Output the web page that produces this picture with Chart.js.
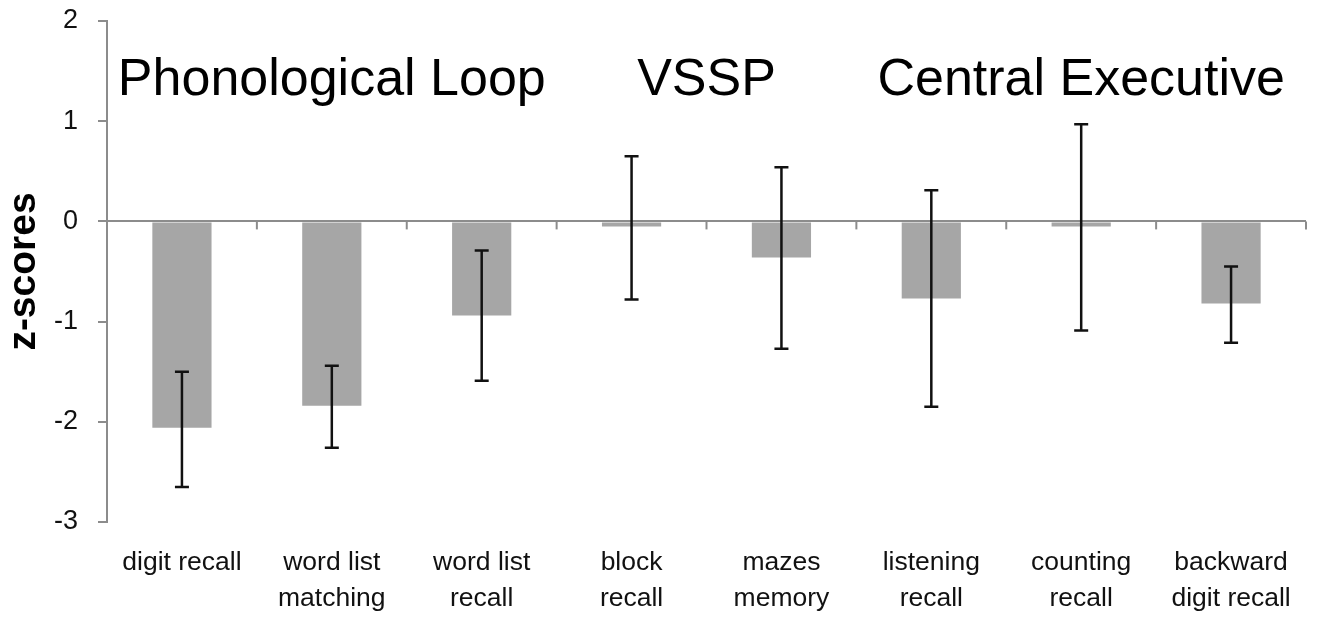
<!DOCTYPE html>
<html lang="en">
<head>
  <meta charset="UTF-8">
  <title>z-scores by working memory task</title>
  <script src="https://cdn.jsdelivr.net/npm/chart.js"></script>
  <style>
    html, body {
      margin: 0;
      padding: 0;
      background: #fff;
    }
    #wrap {
      width: 1318px;
      height: 618px;
    }
  </style>
</head>
<body>
  <div id="wrap"><canvas id="chart"></canvas></div>

  <script>
    // data
    const tasks = [
      ['digit recall'],
      ['word list', 'matching'],
      ['word list', 'recall'],
      ['block', 'recall'],
      ['mazes', 'memory'],
      ['listening', 'recall'],
      ['counting', 'recall'],
      ['backward', 'digit recall']
    ];
    const meanZ = [-2.06, -1.84, -0.94, -0.05, -0.36, -0.77, -0.05, -0.82];
    const errUpper = [-1.50, -1.44, -0.29, 0.65, 0.54, 0.31, 0.97, -0.45];
    const errLower = [-2.65, -2.26, -1.59, -0.78, -1.27, -1.85, -1.09, -1.21];
    const yTicks = [2, 1, 0, -1, -2, -3];

    // component headings, each over a run of tasks (first, last index)
    const groupNames = ['Phonological Loop', 'VSSP', 'Central Executive'];
    const groupFirst = [0, 3, 5];
    const groupLast = [2, 4, 7];

    const axisGrey = '#8c8c8c';
    const fontFamily = "'Liberation Sans', Arial, sans-serif";

    const errorBars = {
      id: 'errorBars',
      afterDatasetsDraw(chart) {
        const ctx = chart.ctx;
        const y = chart.scales.y;
        const bars = chart.getDatasetMeta(0).data;
        ctx.save();
        ctx.strokeStyle = '#111';
        ctx.lineWidth = 2.5;
        bars.forEach((bar, i) => {
          const top = y.getPixelForValue(errUpper[i]);
          const bot = y.getPixelForValue(errLower[i]);
          ctx.beginPath();
          ctx.moveTo(bar.x, top);
          ctx.lineTo(bar.x, bot);
          ctx.moveTo(bar.x - 7, top);
          ctx.lineTo(bar.x + 7, top);
          ctx.moveTo(bar.x - 7, bot);
          ctx.lineTo(bar.x + 7, bot);
          ctx.stroke();
        });
        ctx.restore();
      }
    };

    // little category ticks hanging off the zero line, plus the headings
    const decorations = {
      id: 'decorations',
      afterDraw(chart) {
        const ctx = chart.ctx;
        const x = chart.scales.x;
        const y = chart.scales.y;
        const zero = y.getPixelForValue(0);
        const step = (x.right - x.left) / tasks.length;
        ctx.save();
        ctx.strokeStyle = axisGrey;
        ctx.lineWidth = 2;
        for (let i = 1; i <= tasks.length; i++) {
          const px = x.left + i * step;
          ctx.beginPath();
          ctx.moveTo(px, zero);
          ctx.lineTo(px, zero + 8);
          ctx.stroke();
        }

        ctx.fillStyle = '#000';
        ctx.font = '52px ' + fontFamily;
        ctx.textAlign = 'center';
        ctx.textBaseline = 'alphabetic';
        const baseline = y.getPixelForValue(1.26);
        groupNames.forEach((name, g) => {
          const cx = (x.getPixelForValue(groupFirst[g]) + x.getPixelForValue(groupLast[g])) / 2;
          ctx.fillText(name, cx, baseline);
        });
        ctx.restore();
      }
    };

    new Chart(document.getElementById('chart'), {
      type: 'bar',
      data: {
        labels: tasks,
        datasets: [{
          label: 'z-score',
          data: meanZ,
          backgroundColor: '#a6a6a6',
          borderWidth: 0,
          categoryPercentage: 1,
          barPercentage: 0.395
        }]
      },
      options: {
        responsive: true,
        maintainAspectRatio: false,
        animation: false,
        layout: {
          padding: { top: 21, right: 12, left: 0, bottom: 0 }
        },
        plugins: {
          legend: { display: false },
          tooltip: { enabled: false }
        },
        scales: {
          x: {
            grid: { display: false, drawTicks: false },
            border: { display: false },
            ticks: {
              color: '#111',
              padding: 23,
              maxRotation: 0,
              autoSkip: false,
              font: { family: fontFamily, size: 26.5, lineHeight: 1.36 }
            },
            afterFit(scale) { scale.height = 96; }
          },
          y: {
            min: -3,
            max: 2,
            afterBuildTicks(scale) {
              scale.ticks = yTicks.map(v => ({ value: v }));
            },
            grid: {
              color: ctx => (ctx.tick && ctx.tick.value === 0 ? axisGrey : 'rgba(0,0,0,0)'),
              tickColor: axisGrey,
              lineWidth: 2,
              tickLength: 9
            },
            border: { color: axisGrey, width: 2 },
            ticks: {
              color: '#111',
              padding: 20,
              font: { family: fontFamily, size: 27 }
            },
            title: {
              display: true,
              text: 'z-scores',
              color: '#000',
              padding: 1,
              font: { family: fontFamily, size: 39, weight: 'bold' }
            },
            afterFit(scale) {
              scale.width = 107;
              // keep the plot top/bottom where the layout padding puts them
              scale.paddingTop = 0;
              scale.paddingBottom = 0;
            }
          }
        }
      },
      plugins: [errorBars, decorations]
    });
  </script>
</body>
</html>
